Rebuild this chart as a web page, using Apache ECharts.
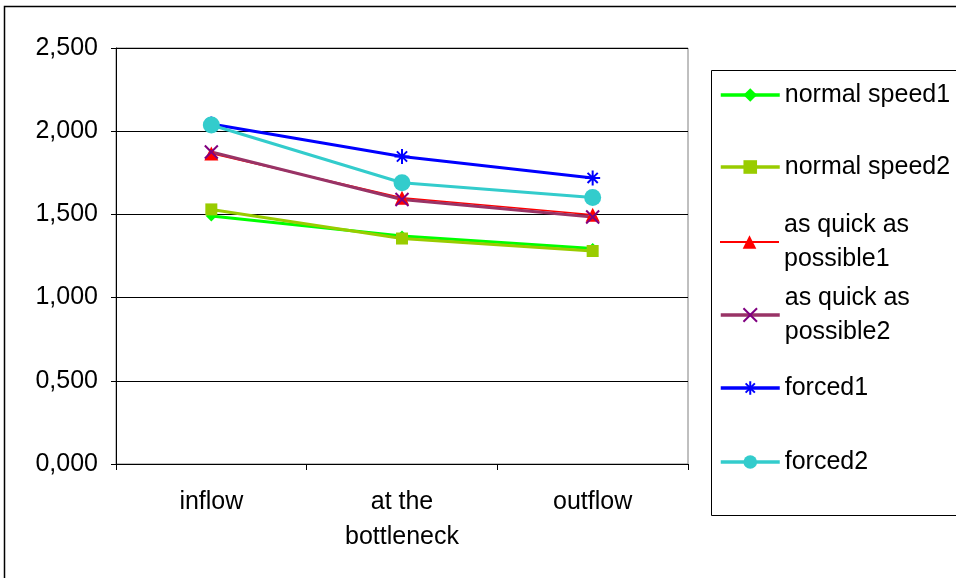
<!DOCTYPE html>
<html>
<head>
<meta charset="utf-8">
<script src="https://cdn.jsdelivr.net/npm/echarts@6/dist/echarts.min.js"></script>
<style>html,body{margin:0;padding:0;background:#fff}#c{width:956px;height:578px}</style>
</head>
<body>
<div id="c"></div>
<script>
var categories = ['inflow', 'at the\nbottleneck', 'outflow'];
var yTicks = [0, 0.5, 1, 1.5, 2, 2.5];
var normalSpeed1 = [1.490, 1.370, 1.295];
var normalSpeed2 = [1.530, 1.355, 1.280];
var quick1 = [1.866, 1.600, 1.498];
var quick2 = [1.875, 1.590, 1.484];
var forced1 = [2.043, 1.848, 1.719];
var forced2 = [2.037, 1.690, 1.602];
var seriesNames = ['normal speed1', 'normal speed2', 'as quick as possible1', 'as quick as possible2', 'forced1', 'forced2'];
var legendLabels = ['normal speed1', 'normal speed2', 'as quick as\npossible1', 'as quick as\npossible2', 'forced1', 'forced2'];

var FONT = 'Liberation Sans, Arial, sans-serif';
var FS = 25;
var chart = echarts.init(document.getElementById('c'), null, {renderer: 'canvas'});

var X_PATH = 'path://M0,0L10,10M10,0L0,10';
var STAR_PATH = 'path://M5,0L5,10M0,5L10,5M1.6,1.6L8.4,8.4M8.4,1.6L1.6,8.4';

var styles = [
  {line: '#00FF00', mark: '#00FF00', w: 3, symbol: 'diamond', size: 11, stroke: false},
  {line: '#99CC00', mark: '#99CC00', w: 3, symbol: 'rect', size: 12, stroke: false},
  {line: '#FF0000', mark: '#FF0000', w: 1.5, symbol: 'triangle', size: 14, stroke: false},
  {line: '#993366', mark: '#800080', w: 3, symbol: X_PATH, size: 13, stroke: true},
  {line: '#0000FF', mark: '#0000FF', w: 3, symbol: STAR_PATH, size: 15, stroke: true},
  {line: '#33CCCC', mark: '#33CCCC', w: 3, symbol: 'circle', size: 17, stroke: false}
];
var dataSets = [normalSpeed1, normalSpeed2, quick1, quick2, forced1, forced2];

var series = dataSets.map(function (d, i) {
  var s = styles[i];
  return {
    name: seriesNames[i],
    type: 'line',
    data: d,
    symbol: s.symbol,
    symbolSize: s.size,
    showAllSymbol: true,
    lineStyle: {color: s.line, width: s.w},
    itemStyle: s.stroke ? {color: 'rgba(0,0,0,0)', borderColor: s.mark, borderWidth: 2} : {color: s.mark, borderWidth: 0},
    emphasis: {disabled: true},
    animation: false
  };
});

var legendTops = [78, 150, 191, 264, 371, 445];
var legends = seriesNames.map(function (n, i) {
  var multi = legendLabels[i].indexOf('\n') >= 0;
  var s = styles[i];
  return {
    show: true,
    orient: 'vertical',
    left: 719,
    top: legendTops[i],
    padding: 0,
    itemWidth: 59,
    itemHeight: 17,
    itemGap: 0,
    selectedMode: false,
    data: [n],
    lineStyle: {width: s.w === 3 ? 3.5 : 2},
    formatter: function () { return legendLabels[i]; },
    textStyle: {fontFamily: FONT, fontSize: FS, color: '#000', lineHeight: 34, padding: multi ? [34, 0, 0, 0] : 0}
  };
});

chart.setOption({
  backgroundColor: '#fff',
  animation: false,
  textStyle: {fontFamily: FONT},
  graphic: [
    {type: 'rect', shape: {x: 4.5, y: 6.5, width: 1000, height: 1000}, style: {fill: 'none', stroke: '#000', lineWidth: 1.5}, silent: true},
    {type: 'rect', shape: {x: 711.5, y: 70.5, width: 400, height: 445}, style: {fill: 'none', stroke: '#000', lineWidth: 1}, silent: true}
  ],
  grid: {left: 116, top: 48, width: 572, height: 416, show: true, borderColor: '#808080', borderWidth: 1, backgroundColor: 'transparent'},
  legend: legends,
  xAxis: {
    type: 'category',
    data: categories,
    boundaryGap: true,
    axisLine: {lineStyle: {color: '#000', width: 1}},
    axisTick: {show: true, length: 6, lineStyle: {color: '#000'}},
    axisLabel: {fontFamily: FONT, fontSize: FS, color: '#000', lineHeight: 35, margin: 21, interval: 0}
  },
  yAxis: {
    type: 'value',
    min: 0,
    max: 2.5,
    interval: 0.5,
    axisLine: {show: true, lineStyle: {color: '#000', width: 1}},
    axisTick: {show: true, length: 5, lineStyle: {color: '#000'}},
    splitLine: {show: true, lineStyle: {color: '#000', width: 1}},
    axisLabel: {
      fontFamily: FONT, fontSize: FS, color: '#000', margin: 18,
      formatter: function (v) { return v.toFixed(3).replace('.', ','); }
    }
  },
  series: series
});
</script>
</body>
</html>
